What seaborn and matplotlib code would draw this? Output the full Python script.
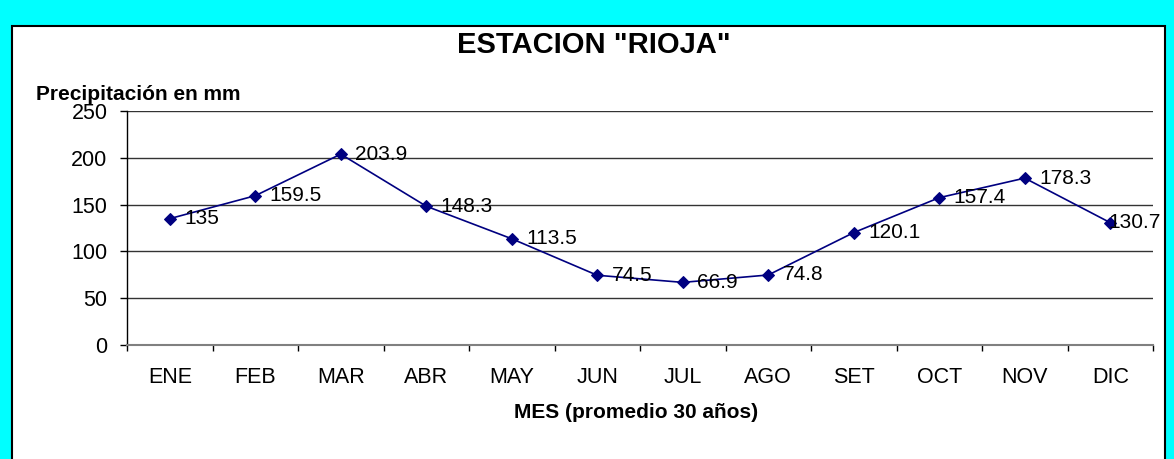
import matplotlib
matplotlib.use("Agg")
import matplotlib.pyplot as plt
from matplotlib.patches import Rectangle
import seaborn as sns
import pandas as pd
import numpy as np

months = ["ENE", "FEB", "MAR", "ABR", "MAY", "JUN", "JUL", "AGO", "SET", "OCT", "NOV", "DIC"]
precip = [135, 159.5, 203.9, 148.3, 113.5, 74.5, 66.9, 74.8, 120.1, 157.4, 178.3, 130.7]
labels = ["135", "159.5", "203.9", "148.3", "113.5", "74.5", "66.9", "74.8", "120.1", "157.4", "178.3", "130.7"]
yticks = [0, 50, 100, 150, 200, 250]

title = 'ESTACION "RIOJA"'
ylabel = "Precipitación en mm"
xlabel = "MES (promedio 30 años)"

sns.set_style("white")
plt.rcParams["font.family"] = ["Liberation Sans", "DejaVu Sans"]
plt.rcParams["text.color"] = "black"
plt.rcParams["xtick.color"] = "black"
plt.rcParams["ytick.color"] = "black"

W, H = 1174, 459
fig = plt.figure(figsize=(W / 100, H / 100), dpi=100)
fig.patch.set_facecolor("#00FFFF")

# inner white panel with black border
panel = Rectangle((12 / W, -0.02), (1165 - 12) / W, 1 - 26 / H + 0.02,
                  transform=fig.transFigure, facecolor="white",
                  edgecolor="black", linewidth=1.5, zorder=-10)
fig.patches.append(panel)

ax = fig.add_axes([127 / W, 1 - 345 / H, (1153 - 127) / W, (345 - 111) / H])
ax.set_facecolor("white")
ax.patch.set_alpha(0)

df = pd.DataFrame({"x": np.arange(len(months)), "y": precip})
sns.lineplot(data=df, x="x", y="y", ax=ax, color="#000080", linewidth=1.2,
             marker="D", markersize=6, markeredgecolor="#000080", zorder=3)

n = len(months)
for i, (xi, yi, lab) in enumerate(zip(df["x"], df["y"], labels)):
    # last label is pushed back onto the marker so it stays inside the frame
    dx = 10.5 if i < n - 1 else -1.5
    ax.annotate(lab, (xi, yi), xytext=(dx, 0), textcoords="offset points",
                ha="left", va="center", fontsize=15, color="black", zorder=4,
                annotation_clip=False)

ax.set_xlim(-0.5, n - 0.5)
ax.set_ylim(0, 250)
ax.set_yticks(yticks)
ax.set_yticklabels([str(t) for t in yticks])
ax.set_xticks(np.arange(n))
ax.set_xticklabels(months)
ax.set_xticks(np.arange(n + 1) - 0.5, minor=True)
ax.tick_params(axis="x", which="major", length=0, pad=16, labelsize=15.5)
ax.tick_params(axis="x", which="minor", length=4.5, width=1, color="black", direction="out", bottom=True)
ax.tick_params(axis="y", which="major", length=5, width=1, color="black",
               direction="out", pad=9, labelsize=15.5, left=True)

ax.grid(axis="y", color="#333333", linewidth=1)
ax.grid(axis="x", visible=False)
ax.set_axisbelow(True)

for s in ["top", "right"]:
    ax.spines[s].set_visible(False)
ax.spines["left"].set_color("black")
ax.spines["left"].set_linewidth(1)
ax.spines["bottom"].set_color("#808080")
ax.spines["bottom"].set_linewidth(1.5)

ax.set_xlabel("")
ax.set_ylabel("")

fig.text(594 / W, 1 - 45 / H, title, ha="center", va="center",
         fontsize=21, fontweight="bold")
fig.text(36 / W, 1 - 100 / H, ylabel, ha="left", va="baseline",
         fontsize=15, fontweight="bold")
fig.text(636 / W, 1 - 413 / H, xlabel, ha="center", va="center",
         fontsize=15, fontweight="bold")

fig.savefig("out.png", dpi=100, facecolor=fig.get_facecolor())
